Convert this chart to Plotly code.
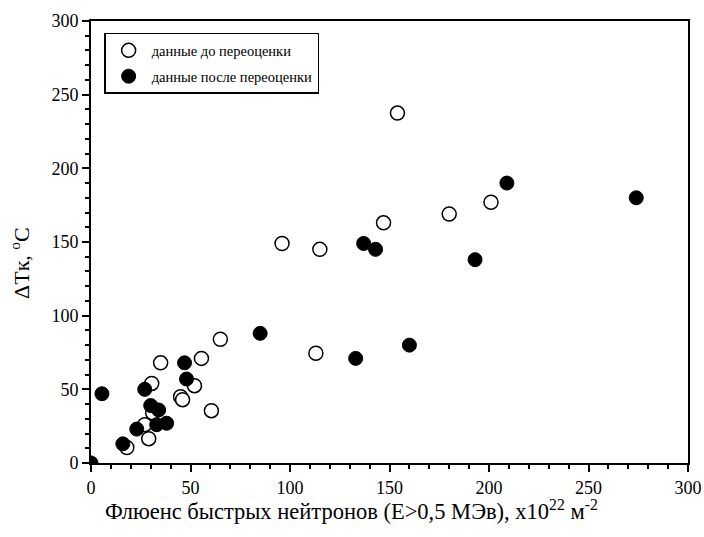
import plotly.graph_objects as go

# Data before re-evaluation (open circles)
before_x = [154, 201, 180, 147, 96, 115, 113, 65, 55.5, 35, 30.5, 52, 45, 46, 60.5, 31, 27, 29, 18]
before_y = [237.5, 177, 169, 163, 149, 145, 74.5, 84, 71, 68, 54, 52.5, 45, 43, 35.5, 34, 26, 16.5, 10.5]

# Data after re-evaluation (filled circles)
after_x = [274, 209, 137, 143, 193, 160, 133, 85, 47, 48, 5.5, 27, 30, 34, 33, 38, 23, 16, 0]
after_y = [180, 190, 149, 145, 138, 80, 71, 88, 68, 57, 47, 50, 39, 36, 26, 27, 23, 13, 0]

x_title = "Флюенс быстрых нейтронов (E>0,5 МЭв), x10<sup>22</sup> м<sup>-2</sup>"
y_title = "ΔTк, <sup>o</sup>C"
name_before = "данные до переоценки"
name_after = "данные после переоценки"

FONT = "'Liberation Serif', 'Times New Roman', 'DejaVu Serif', serif"

fig = go.Figure()
fig.add_trace(go.Scatter(
    x=before_x, y=before_y, mode="markers", name=name_before, legendgroup="a",
    marker=dict(symbol="circle", size=14, color="white",
                line=dict(color="black", width=1.5)),
))
fig.add_trace(go.Scatter(
    x=after_x, y=after_y, mode="markers", name=name_after, legendgroup="b",
    marker=dict(symbol="circle", size=14, color="black",
                line=dict(color="black", width=1)),
))

axis_common = dict(
    showgrid=False, zeroline=False, showline=True, linecolor="black", linewidth=2,
    ticks="outside", ticklen=7, tickwidth=2, tickcolor="black", automargin=False,
    tickfont=dict(family=FONT, size=18, color="black"),
)

fig.update_xaxes(
    range=[0, 300], dtick=50, mirror=True,
    minor=dict(dtick=10, ticks="outside", ticklen=4, tickwidth=1.5, tickcolor="black"),
    **axis_common,
)
fig.update_yaxes(
    range=[0, 300], dtick=50, mirror=True,
    minor=dict(dtick=10, ticks="outside", ticklen=4, tickwidth=1.5, tickcolor="black"),
    **axis_common,
)

# Small inward ticks on the top and right frame edges
mirror_common = dict(
    range=[0, 300], dtick=10, ticks="inside", ticklen=3, tickwidth=1.5, tickcolor="black",
    showticklabels=False, showgrid=False, zeroline=False, showline=False, automargin=False,
)
fig.update_layout(
    xaxis2=dict(overlaying="x", side="top", anchor="y", **mirror_common),
    yaxis2=dict(overlaying="y", side="right", anchor="x", **mirror_common),
)

fig.add_annotation(
    text=x_title, xref="paper", yref="paper", x=0.437, y=-0.107,
    xanchor="center", yanchor="middle", showarrow=False,
    font=dict(family=FONT, size=22.5, color="black"),
)
fig.add_annotation(
    text=y_title, xref="paper", yref="paper", x=-0.119, y=0.4525,
    xanchor="center", yanchor="middle", showarrow=False, textangle=-90,
    font=dict(family=FONT, size=22, color="black"),
)

fig.update_layout(
    width=704, height=537,
    margin=dict(l=91, r=16, t=21, b=74),
    paper_bgcolor="white", plot_bgcolor="white",
    font=dict(family=FONT, color="black"),
    showlegend=True,
    legend=dict(
        x=0.022, y=0.973, xanchor="left", yanchor="top",
        bgcolor="white", bordercolor="black", borderwidth=1.5,
        traceorder="grouped", tracegroupgap=4, itemwidth=36,
        font=dict(family=FONT, size=14.5, color="black"),
    ),
)

fig.write_html("out.html")
